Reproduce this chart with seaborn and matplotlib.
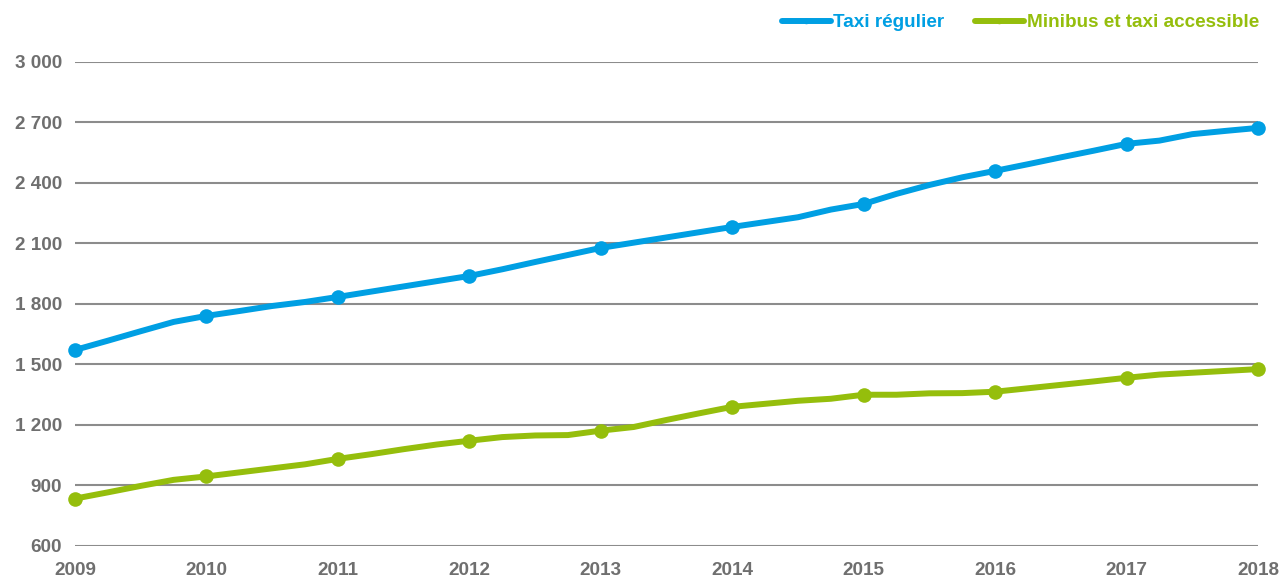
"""
Taxis en service par trimestre, 2009-2018
Output: out.png
"""

import numpy as np
import pandas as pd
import matplotlib
matplotlib.use("Agg")
import matplotlib.pyplot as plt
from matplotlib.lines import Line2D
import seaborn as sns

OUT_PATH = "out.png"

# trimestres 2009 T1 -> 2018 T1
PERIODES = np.arange(2009, 2018.01, 0.25)

TAXI_REGULIER = [
    1572, 1618, 1665, 1711,
    1741, 1765, 1790, 1810,
    1835, 1861, 1887, 1913,
    1939, 1972, 2008, 2043,
    2078, 2104, 2130, 2156,
    2182, 2206, 2230, 2268,
    2296, 2346, 2390, 2428,
    2460, 2493, 2527, 2560,
    2594, 2610, 2642, 2658,
    2673,
]
MINIBUS_ACCESSIBLE = [
    835, 866, 898, 928,
    945, 965, 985, 1005,
    1032, 1055, 1080, 1103,
    1122, 1140, 1148, 1150,
    1172, 1190, 1225, 1258,
    1290, 1305, 1320, 1330,
    1350, 1350, 1357, 1358,
    1365, 1382, 1399, 1416,
    1434, 1450, 1459, 1468,
    1477,
]

SERIES = ["Taxi régulier", "Minibus et taxi accessible"]
COLORS = ["#009FE3", "#95BE0C"]
YTICKS = [600, 900, 1200, 1500, 1800, 2100, 2400, 2700, 3000]
XTICKS = list(range(2009, 2019))
TEXT_GRAY = "#6F6F6F"
GRID_GRAY = "#8C8C8C"
FONT_SIZE = 13.6


def fmt_milliers(v):
    s = f"{int(v):,}"
    return s.replace(",", " ")


def main():
    sns.set_theme(style="white")
    plt.rcParams["font.family"] = ["Liberation Sans", "DejaVu Sans"]

    df = pd.DataFrame({
        "periode": np.concatenate([PERIODES, PERIODES]),
        "valeur": TAXI_REGULIER + MINIBUS_ACCESSIBLE,
        "serie": [SERIES[0]] * len(PERIODES) + [SERIES[1]] * len(PERIODES),
    })

    fig = plt.figure(figsize=(12.85, 5.79), dpi=100)
    ax = fig.add_axes([0.0584, 0.057, 0.9206, 0.836])

    for name, color in zip(SERIES, COLORS):
        sub = df[df["serie"] == name]
        sns.lineplot(data=sub, x="periode", y="valeur", ax=ax, color=color,
                     linewidth=4.3, marker="o", markersize=10.5,
                     markeredgewidth=0, markevery=4, clip_on=False,
                     solid_joinstyle="round", legend=False, zorder=3)

    ax.set_xlim(2009, 2018)
    ax.set_ylim(600, 3000)
    ax.set_yticks(YTICKS)
    ax.set_yticklabels([fmt_milliers(v) for v in YTICKS])
    ax.set_xticks(XTICKS)
    ax.set_xticklabels([str(y) for y in XTICKS])
    ax.set_xlabel("")
    ax.set_ylabel("")

    for v in YTICKS:
        ax.axhline(v, color=GRID_GRAY, linewidth=1.5, zorder=1)
    ax.grid(False)
    for sp in ax.spines.values():
        sp.set_visible(False)

    ax.tick_params(axis="y", length=0, pad=9.5, labelsize=FONT_SIZE,
                   labelcolor=TEXT_GRAY)
    ax.tick_params(axis="x", length=0, pad=11.5, labelsize=FONT_SIZE,
                   labelcolor=TEXT_GRAY)
    for lab in ax.get_xticklabels() + ax.get_yticklabels():
        lab.set_fontweight("bold")

    handles = [Line2D([0, 0.5, 1], [0, 0, 0], color=c, linewidth=4.3,
                      marker="o", markersize=3, markevery=[1])
               for c in COLORS]
    fig.legend(handles, SERIES, loc="upper right",
               bbox_to_anchor=(0.993, 1.005), ncol=2, frameon=False,
               handlelength=2.6, handletextpad=0.15, columnspacing=1.6,
               prop={"weight": "bold", "size": FONT_SIZE},
               labelcolor=COLORS)

    plt.savefig(OUT_PATH, dpi=100)
    plt.close()


if __name__ == "__main__":
    main()
